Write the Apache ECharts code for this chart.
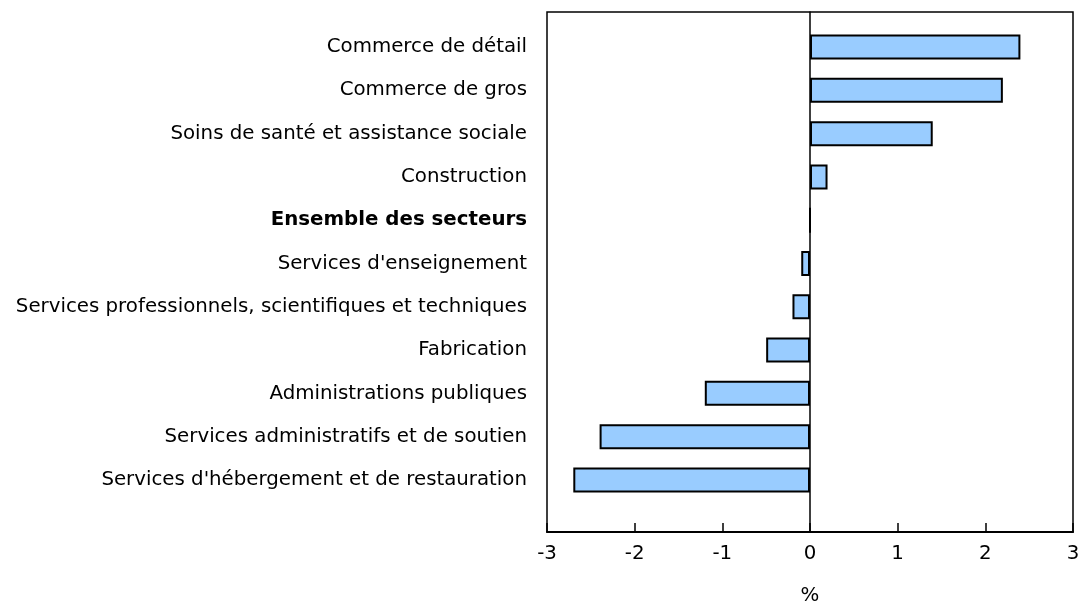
<!DOCTYPE html>
<html>
<head>
<meta charset="utf-8">
<script src="https://cdn.jsdelivr.net/npm/echarts@6/dist/echarts.min.js"></script>
<style>
  html, body { margin: 0; padding: 0; background: #fff; }
  #chart { width: 1079px; height: 602px; }
</style>
</head>
<body>
<div id="chart"></div>
<script>
const sectors = [
  'Commerce de détail',
  'Commerce de gros',
  'Soins de santé et assistance sociale',
  'Construction',
  'Ensemble des secteurs',
  "Services d'enseignement",
  'Services professionnels, scientifiques et techniques',
  'Fabrication',
  'Administrations publiques',
  'Services administratifs et de soutien',
  "Services d'hébergement et de restauration"
]
const changes = [2.4, 2.2, 1.4, 0.2, 0.0, -0.1, -0.2, -0.5, -1.2, -2.4, -2.7]
const boldLabel = 'Ensemble des secteurs'

const font = 'DejaVu Sans, Verdana, sans-serif'
const fs = 19.8
const chart = echarts.init(document.getElementById('chart'))

chart.setOption({
  animation: false,
  grid: [
    // frame + x axis
    { left: 547, right: 6, top: 12, bottom: 70, outerBoundsMode: 'none', containLabel: false,
      show: true, borderColor: '#000', borderWidth: 1.5 },
    // bars
    { left: 547, right: 6, top: 25.4, bottom: 100.4, outerBoundsMode: 'none', containLabel: false }
  ],
  xAxis: [{
    gridIndex: 0,
    type: 'value',
    min: -3,
    max: 3,
    interval: 1,
    name: '%',
    nameLocation: 'middle',
    nameGap: 54,
    nameTextStyle: { color: '#000', fontSize: fs, fontFamily: font },
    axisLine: { lineStyle: { color: '#000', width: 2 } },
    axisTick: { inside: true, length: 9, lineStyle: { color: '#000', width: 1.5 } },
    axisLabel: { color: '#000', fontSize: fs, fontFamily: font, margin: 12 },
    splitLine: { show: false }
  }, {
    gridIndex: 1,
    type: 'value',
    min: -3,
    max: 3,
    show: false
  }],
  yAxis: [{
    gridIndex: 0,
    type: 'value',
    min: 0,
    max: 1,
    axisLine: { show: true, onZero: true, lineStyle: { color: '#000', width: 1.5 } },
    axisTick: { show: false },
    axisLabel: { show: false },
    splitLine: { show: false }
  }, {
    gridIndex: 1,
    type: 'category',
    inverse: true,
    data: sectors,
    axisLine: { show: false },
    axisTick: { show: false },
    axisLabel: {
      color: '#000',
      fontSize: fs,
      fontFamily: font,
      margin: 20,
      formatter: function (v) {
        return v === boldLabel ? '{b|' + v + '}' : v
      },
      rich: {
        b: { fontWeight: 'bold', fontSize: fs, fontFamily: font, color: '#000' }
      }
    }
  }],
  series: [{
    type: 'bar',
    xAxisIndex: 1,
    yAxisIndex: 1,
    data: changes,
    barWidth: 25,
    itemStyle: {
      color: '#99ccff',
      borderColor: '#000',
      borderWidth: 2
    }
  }]
})
</script>
</body>
</html>
